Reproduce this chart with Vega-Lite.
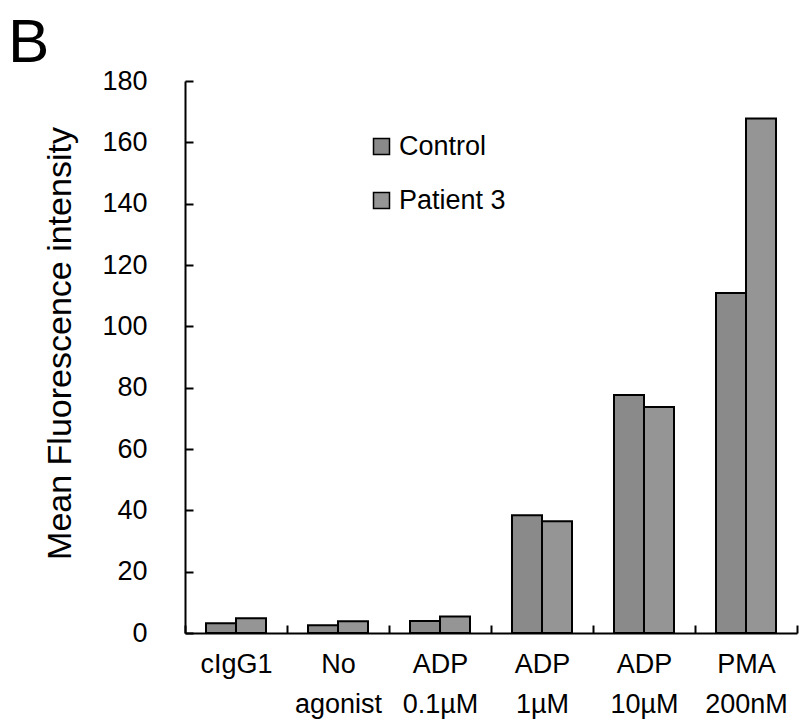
{
  "$schema": "https://vega.github.io/schema/vega-lite/v6.json",
  "autosize": "none",
  "padding": {"left": 185, "top": 81, "right": 4, "bottom": 95},
  "width": 612,
  "height": 552,
  "title": {
    "text": "B",
    "fontSize": 62,
    "font": "Liberation Sans",
    "fontWeight": "normal",
    "anchor": "start",
    "frame": "group",
    "dx": -177,
    "dy": 78,
    "offset": 21,
    "baseline": "alphabetic",
    "color": "black"
  },
  "data": {
    "values": [
      {"condition": "cIgG1", "group": "Control", "value": 3.2},
      {"condition": "cIgG1", "group": "Patient 3", "value": 4.8},
      {"condition": "No agonist", "group": "Control", "value": 2.5},
      {"condition": "No agonist", "group": "Patient 3", "value": 3.8},
      {"condition": "ADP 0.1µM", "group": "Control", "value": 3.9},
      {"condition": "ADP 0.1µM", "group": "Patient 3", "value": 5.4},
      {"condition": "ADP 1µM", "group": "Control", "value": 38.4},
      {"condition": "ADP 1µM", "group": "Patient 3", "value": 36.4},
      {"condition": "ADP 10µM", "group": "Control", "value": 77.6},
      {"condition": "ADP 10µM", "group": "Patient 3", "value": 73.7},
      {"condition": "PMA 200nM", "group": "Control", "value": 110.9},
      {"condition": "PMA 200nM", "group": "Patient 3", "value": 167.8}
    ]
  },
  "mark": {"type": "bar", "stroke": "black", "strokeWidth": 2, "opacity": 1},
  "encoding": {
    "x": {
      "field": "condition",
      "type": "nominal",
      "sort": null,
      "scale": {"paddingInner": 0, "paddingOuter": 0},
      "axis": {
        "title": null,
        "labelAngle": 0,
        "labelExpr": "split(datum.label, ' ')",
        "labelFont": "Liberation Sans",
        "labelFontSize": 27,
        "labelColor": "black",
        "labelLineHeight": 40,
        "labelBaseline": "top",
        "labelPadding": 26,
        "tickBand": "extent",
        "tickSize": -8,
        "tickColor": "black",
        "tickWidth": 2,
        "domainColor": "black",
        "domainWidth": 2
      }
    },
    "xOffset": {
      "field": "group",
      "type": "nominal",
      "scale": {"paddingInner": 0, "paddingOuter": 0.7}
    },
    "y": {
      "field": "value",
      "type": "quantitative",
      "scale": {"domain": [0, 180], "nice": false},
      "axis": {
        "title": "Mean Fluorescence intensity",
        "titleFont": "Liberation Sans",
        "titleFontSize": 34,
        "titleFontWeight": "normal",
        "titleColor": "black",
        "titleX": -115,
        "titleY": 262,
        "titleAngle": -90,
        "titleAlign": "center",
        "titleBaseline": "alphabetic",
        "values": [0, 20, 40, 60, 80, 100, 120, 140, 160, 180],
        "labelFont": "Liberation Sans",
        "labelFontSize": 27,
        "labelColor": "black",
        "labelPadding": 46,
        "tickSize": -8,
        "tickColor": "black",
        "tickWidth": 2,
        "domainColor": "black",
        "domainWidth": 2,
        "grid": false
      }
    },
    "color": {
      "field": "group",
      "type": "nominal",
      "scale": {"domain": ["Control", "Patient 3"], "range": ["#8a8a8a", "#959595"]},
      "legend": {
        "title": null,
        "orient": "none",
        "legendX": 183,
        "legendY": 52,
        "symbolType": "square",
        "symbolSize": 256,
        "symbolStrokeColor": "black",
        "symbolStrokeWidth": 1.5,
        "symbolOpacity": 1,
        "labelFont": "Liberation Sans",
        "labelFontSize": 27,
        "labelColor": "black",
        "labelOffset": 4,
        "rowPadding": 26
      }
    }
  },
  "config": {
    "view": {"stroke": null},
    "background": "white"
  }
}
